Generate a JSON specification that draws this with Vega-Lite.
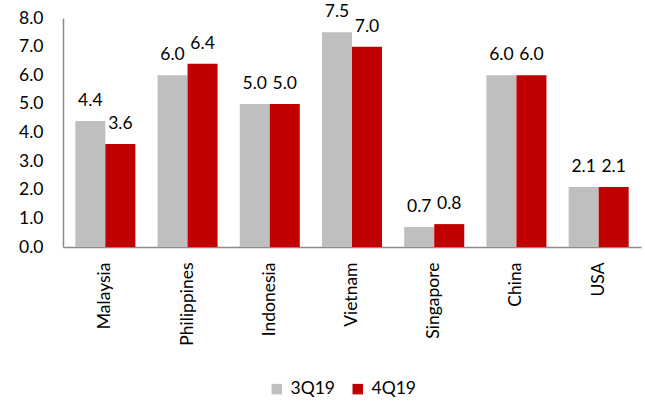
{
  "$schema": "https://vega.github.io/schema/vega-lite/v6.json",
  "width": 578,
  "height": 229,
  "autosize": {"type": "none"},
  "padding": {"left": 63, "top": 18, "right": 4, "bottom": 158},
  "config": {
    "view": {"stroke": null},
    "font": "Lato",
    "axis": {"labelFont": "Lato", "labelFontSize": 17.5, "labelColor": "#000000", "grid": false, "ticks": false, "domainColor": "#8c8c8c", "domainWidth": 1.5, "title": null}
  },
  "data": {
    "values": [
      {"country": "Malaysia", "series": "3Q19", "value": 4.4},
      {"country": "Malaysia", "series": "4Q19", "value": 3.6},
      {"country": "Philippines", "series": "3Q19", "value": 6.0},
      {"country": "Philippines", "series": "4Q19", "value": 6.4},
      {"country": "Indonesia", "series": "3Q19", "value": 5.0},
      {"country": "Indonesia", "series": "4Q19", "value": 5.0},
      {"country": "Vietnam", "series": "3Q19", "value": 7.5},
      {"country": "Vietnam", "series": "4Q19", "value": 7.0},
      {"country": "Singapore", "series": "3Q19", "value": 0.7},
      {"country": "Singapore", "series": "4Q19", "value": 0.8},
      {"country": "China", "series": "3Q19", "value": 6.0},
      {"country": "China", "series": "4Q19", "value": 6.0},
      {"country": "USA", "series": "3Q19", "value": 2.1},
      {"country": "USA", "series": "4Q19", "value": 2.1}
    ]
  },
  "encoding": {
    "x": {
      "field": "country", "type": "nominal", "sort": null,
      "scale": {"paddingInner": 0.27, "paddingOuter": 0.15},
      "axis": {"labelAngle": 270, "labelAlign": "right", "labelBaseline": "middle", "labelPadding": 15}
    },
    "xOffset": {"field": "series", "type": "nominal", "sort": ["3Q19", "4Q19"]},
    "y": {
      "field": "value", "type": "quantitative",
      "scale": {"domain": [0, 8], "nice": false},
      "axis": {"values": [0, 1, 2, 3, 4, 5, 6, 7, 8], "format": ".1f", "labelPadding": 20}
    }
  },
  "layer": [
    {
      "mark": {"type": "bar"},
      "encoding": {
        "color": {
          "field": "series", "type": "nominal",
          "scale": {"domain": ["3Q19", "4Q19"], "range": ["#bfbfbf", "#c00000"]},
          "legend": {
            "title": null, "orient": "none", "legendX": 205, "legendY": 362, "direction": "horizontal",
            "symbolType": "square", "symbolSize": 110, "symbolStrokeWidth": 0, "labelFontSize": 17.5, "labelFont": "Lato", "labelColor": "#000000", "columnPadding": 14, "labelOffset": 5
          }
        }
      }
    },
    {
      "mark": {"type": "text", "baseline": "alphabetic", "dy": -15, "fontSize": 17.5, "font": "Lato", "color": "#000000"},
      "encoding": {
        "text": {"field": "value", "type": "quantitative", "format": ".1f"}
      }
    }
  ]
}
